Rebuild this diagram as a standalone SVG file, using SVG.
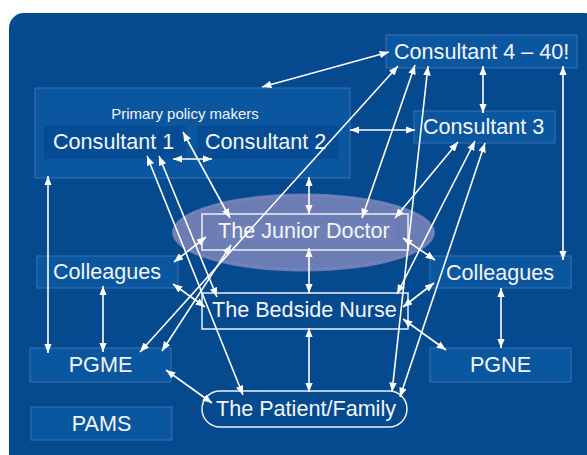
<svg xmlns="http://www.w3.org/2000/svg" width="587" height="455" viewBox="0 0 587 455">
  <defs>
    <marker id="ah" viewBox="0 0 10 8" refX="10" refY="4" markerWidth="9.5" markerHeight="7.5" markerUnits="userSpaceOnUse" orient="auto-start-reverse">
      <path d="M0,0 L10,4 L0,8 Z" fill="#ffffff"/>
    </marker>
  </defs>
  <style>
    .panel { fill: #05498f; }
    .box { fill: #0a57a0; stroke: #3a72b4; stroke-width: 1; }
    .inner { fill: #064c94; }
    .wbox { fill: none; stroke: #eef0f8; stroke-width: 1.5; }
    .lbl { font-family: "Liberation Sans", Arial, sans-serif; font-size: 21.6px; fill: #f4f5fa; }
    .mid { text-anchor: middle; }
    .small { font-size: 15px; }
    .conn line { stroke: #ffffff; stroke-width: 1.6; marker-start: url(#ah); marker-end: url(#ah); }
  </style>

  <rect x="0" y="0" width="587" height="455" fill="#ffffff"/>
  <rect class="panel" x="9" y="13" width="590" height="460" rx="15" ry="15"/>

  <!-- central ellipse behind the junior doctor -->
  <g id="ellipse">
    <ellipse cx="303.5" cy="232.5" rx="131.5" ry="39" fill="#6c7cb4"/>
    <ellipse cx="303.5" cy="232.5" rx="129" ry="36.5" fill="none" stroke="#8a98c8" stroke-width="0.8" stroke-dasharray="2 2"/>
  </g>

  <g id="policy-makers">
    <rect class="box" x="35" y="88" width="315" height="90"/>
    <text class="lbl small mid" x="185" y="119">Primary policy makers</text>
  </g>
  <g id="consultant-1">
    <rect class="inner" x="44" y="126" width="142" height="33"/>
    <text class="lbl" x="53" y="149">Consultant 1</text>
  </g>
  <g id="consultant-2">
    <rect class="inner" x="197" y="126" width="141" height="33"/>
    <text class="lbl" x="205" y="149">Consultant 2</text>
  </g>
  <g id="consultant-4-40">
    <rect class="box" x="386" y="35" width="191" height="33"/>
    <text class="lbl" x="394" y="59">Consultant 4 – 40!</text>
  </g>
  <g id="consultant-3">
    <rect class="box" x="414" y="111" width="141" height="32"/>
    <text class="lbl" x="423" y="134">Consultant 3</text>
  </g>
  <g id="colleagues-left">
    <rect class="box" x="37" y="256" width="141" height="32"/>
    <text class="lbl" x="53" y="279">Colleagues</text>
  </g>
  <g id="colleagues-right">
    <rect class="box" x="430" y="256" width="141" height="32"/>
    <text class="lbl" x="446" y="280">Colleagues</text>
  </g>
  <g id="pgme">
    <rect class="box" x="30" y="348" width="141" height="34"/>
    <text class="lbl mid" x="100.5" y="372">PGME</text>
  </g>
  <g id="pgne">
    <rect class="box" x="430" y="348" width="141" height="34"/>
    <text class="lbl mid" x="500.5" y="372">PGNE</text>
  </g>
  <g id="pams">
    <rect class="box" x="31" y="407" width="141" height="33"/>
    <text class="lbl mid" x="101.5" y="431">PAMS</text>
  </g>
  <g id="junior-doctor">
    <rect x="217" y="224" width="177" height="17" fill="#6f80b8"/>
    <rect class="wbox" x="202" y="214" width="206" height="36"/>
    <text class="lbl" x="218" y="238">The Junior Doctor</text>
  </g>
  <g id="bedside-nurse">
    <rect class="wbox" x="202" y="293" width="206" height="36"/>
    <text class="lbl" x="212" y="317">The Bedside Nurse</text>
  </g>
  <g id="patient-family">
    <rect class="wbox" x="202" y="391" width="205" height="36" rx="18" ry="18"/>
    <text class="lbl" x="216" y="416">The Patient/Family</text>
  </g>

  <g id="connectors" class="conn">
    <line x1="262" y1="87" x2="389" y2="52"/>
    <line x1="483" y1="66" x2="483" y2="113"/>
    <line x1="563" y1="66" x2="563" y2="260"/>
    <line x1="350" y1="130" x2="415" y2="130"/>
    <line x1="173" y1="159" x2="212" y2="159"/>
    <line x1="309" y1="177" x2="309" y2="214"/>
    <line x1="183" y1="132" x2="230" y2="218"/>
    <line x1="147" y1="156" x2="243" y2="395"/>
    <line x1="159" y1="156" x2="217" y2="297"/>
    <line x1="174" y1="262" x2="206" y2="237"/>
    <line x1="173" y1="284" x2="205" y2="307"/>
    <line x1="103" y1="286" x2="103" y2="352"/>
    <line x1="48" y1="176" x2="48" y2="353"/>
    <line x1="140" y1="352" x2="398" y2="66"/>
    <line x1="162" y1="351" x2="231" y2="245"/>
    <line x1="166" y1="370" x2="212" y2="403"/>
    <line x1="309" y1="248" x2="309" y2="293"/>
    <line x1="309" y1="328" x2="309" y2="392"/>
    <line x1="403" y1="238" x2="435" y2="260"/>
    <line x1="403" y1="307" x2="434" y2="283"/>
    <line x1="403" y1="319" x2="446" y2="350"/>
    <line x1="501" y1="288" x2="501" y2="348"/>
    <line x1="415" y1="65" x2="362" y2="218"/>
    <line x1="428" y1="66" x2="392" y2="392"/>
    <line x1="458" y1="142" x2="395" y2="218"/>
    <line x1="475" y1="141" x2="397" y2="294"/>
    <line x1="485" y1="143" x2="400" y2="397"/>
  </g>
</svg>
